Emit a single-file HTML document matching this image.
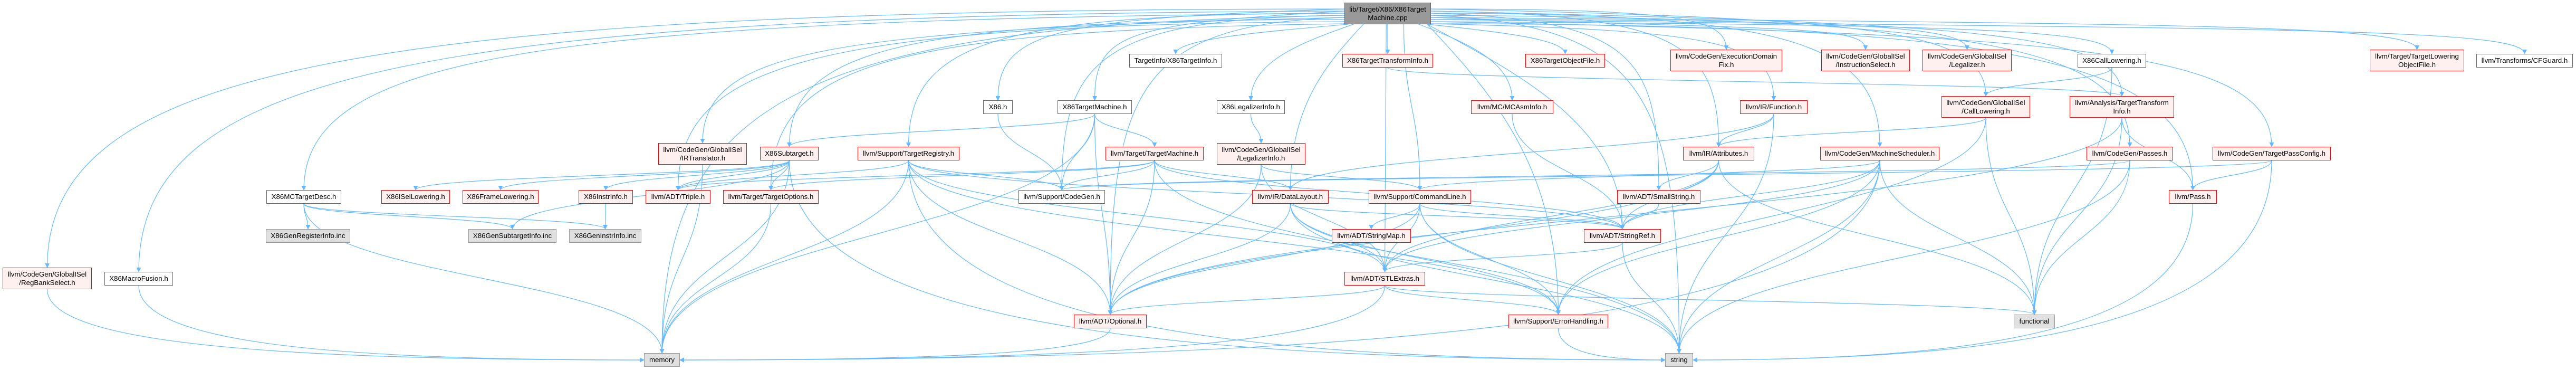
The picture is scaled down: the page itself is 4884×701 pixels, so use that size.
<!DOCTYPE html>
<html><head><meta charset="utf-8"><style>
html,body{margin:0;padding:0;background:#fff;}
#c{position:relative;width:4884px;height:701px;overflow:hidden;}
svg{position:absolute;left:0;top:0;}
.n{position:absolute;box-sizing:border-box;display:flex;align-items:center;justify-content:center;text-align:center;font-family:"Liberation Sans",sans-serif;font-size:13.3px;line-height:16px;color:#000;white-space:nowrap;}
.r{background:#fff0f0;border:1px solid #ff0000;}
.w{background:#fff;border:1px solid #666;}
.g{background:#e0e0e0;border:1px solid #999;}
.root{background:#999;border:1px solid #666;}
</style></head><body><div id="c">
<svg id="s" width="4884" height="701"><defs><marker id="a" viewBox="0 0 10 10" refX="9" refY="5" markerWidth="9" markerHeight="9" orient="auto" markerUnits="userSpaceOnUse"><path d="M0,0 L10,5 L0,10 z" fill="#63b8ff"/></marker></defs><g id="e" fill="none" stroke="#63b8ff" stroke-width="1.2"></g></svg>
<div class="n root" id="root" style="left:2549px;top:5px;width:164px;height:41px">lib/Target/X86/X86Target<br>Machine.cpp</div>
<div class="n r" id="regbank" style="left:5px;top:507px;width:169px;height:41px">llvm/CodeGen/GlobalISel<br>/RegBankSelect.h</div>
<div class="n w" id="macro" style="left:198px;top:515px;width:130px;height:26px">X86MacroFusion.h</div>
<div class="n w" id="mcdesc" style="left:505px;top:360px;width:142px;height:26px">X86MCTargetDesc.h</div>
<div class="n g" id="genreg" style="left:504px;top:434px;width:160px;height:26px">X86GenRegisterInfo.inc</div>
<div class="n r" id="isel" style="left:723px;top:360px;width:130px;height:26px">X86ISelLowering.h</div>
<div class="n r" id="frame" style="left:877px;top:360px;width:144px;height:26px">X86FrameLowering.h</div>
<div class="n g" id="gensub" style="left:888px;top:434px;width:167px;height:26px">X86GenSubtargetInfo.inc</div>
<div class="n r" id="instr" style="left:1097px;top:360px;width:103px;height:26px">X86InstrInfo.h</div>
<div class="n g" id="geninstr" style="left:1079px;top:434px;width:137px;height:26px">X86GenInstrInfo.inc</div>
<div class="n r" id="triple" style="left:1224px;top:360px;width:123px;height:26px">llvm/ADT/Triple.h</div>
<div class="n r" id="topts" style="left:1371px;top:360px;width:181px;height:26px">llvm/Target/TargetOptions.h</div>
<div class="n r" id="irtrans" style="left:1248px;top:271px;width:168px;height:41px">llvm/CodeGen/GlobalISel<br>/IRTranslator.h</div>
<div class="n r" id="subt" style="left:1441px;top:278px;width:111px;height:26px">X86Subtarget.h</div>
<div class="n g" id="memory" style="left:1221px;top:669px;width:68px;height:26px">memory</div>
<div class="n w" id="tinfo" style="left:2141px;top:102px;width:176px;height:26px">TargetInfo/X86TargetInfo.h</div>
<div class="n w" id="x86h" style="left:1864px;top:190px;width:56px;height:26px">X86.h</div>
<div class="n w" id="x86tm" style="left:2005px;top:190px;width:141px;height:26px">X86TargetMachine.h</div>
<div class="n w" id="legi" style="left:2307px;top:190px;width:129px;height:26px">X86LegalizerInfo.h</div>
<div class="n r" id="treg" style="left:1626px;top:278px;width:193px;height:26px">llvm/Support/TargetRegistry.h</div>
<div class="n r" id="tm" style="left:2096px;top:278px;width:186px;height:26px">llvm/Target/TargetMachine.h</div>
<div class="n r" id="llegi" style="left:2307px;top:271px;width:168px;height:41px">llvm/CodeGen/GlobalISel<br>/LegalizerInfo.h</div>
<div class="n w" id="cg" style="left:1931px;top:360px;width:164px;height:26px">llvm/Support/CodeGen.h</div>
<div class="n r" id="dl" style="left:2374px;top:360px;width:145px;height:26px">llvm/IR/DataLayout.h</div>
<div class="n r" id="opt" style="left:2036px;top:596px;width:138px;height:26px">llvm/ADT/Optional.h</div>
<div class="n r" id="xtti" style="left:2545px;top:102px;width:172px;height:26px">X86TargetTransformInfo.h</div>
<div class="n r" id="tobj" style="left:2892px;top:102px;width:151px;height:26px">X86TargetObjectFile.h</div>
<div class="n r" id="edf" style="left:3167px;top:94px;width:212px;height:41px">llvm/CodeGen/ExecutionDomain<br>Fix.h</div>
<div class="n r" id="mcasm" style="left:2789px;top:190px;width:156px;height:26px">llvm/MC/MCAsmInfo.h</div>
<div class="n r" id="attr" style="left:3191px;top:278px;width:135px;height:26px">llvm/IR/Attributes.h</div>
<div class="n r" id="cl" style="left:2595px;top:360px;width:194px;height:26px">llvm/Support/CommandLine.h</div>
<div class="n r" id="ss" style="left:3066px;top:360px;width:158px;height:26px">llvm/ADT/SmallString.h</div>
<div class="n r" id="smap" style="left:2525px;top:434px;width:150px;height:26px">llvm/ADT/StringMap.h</div>
<div class="n r" id="sref" style="left:3003px;top:434px;width:146px;height:26px">llvm/ADT/StringRef.h</div>
<div class="n r" id="stl" style="left:2549px;top:515px;width:153px;height:26px">llvm/ADT/STLExtras.h</div>
<div class="n r" id="err" style="left:2860px;top:596px;width:189px;height:26px">llvm/Support/ErrorHandling.h</div>
<div class="n g" id="string" style="left:3157px;top:669px;width:53px;height:26px">string</div>
<div class="n r" id="isel2" style="left:3453px;top:94px;width:168px;height:41px">llvm/CodeGen/GlobalISel<br>/InstructionSelect.h</div>
<div class="n r" id="leg" style="left:3645px;top:94px;width:169px;height:41px">llvm/CodeGen/GlobalISel<br>/Legalizer.h</div>
<div class="n w" id="xcl" style="left:3939px;top:102px;width:130px;height:26px">X86CallLowering.h</div>
<div class="n r" id="func" style="left:3299px;top:190px;width:128px;height:26px">llvm/IR/Function.h</div>
<div class="n r" id="cl2" style="left:3681px;top:182px;width:168px;height:41px">llvm/CodeGen/GlobalISel<br>/CallLowering.h</div>
<div class="n r" id="atti" style="left:3924px;top:182px;width:198px;height:41px">llvm/Analysis/TargetTransform<br>Info.h</div>
<div class="n r" id="ms" style="left:3451px;top:278px;width:226px;height:26px">llvm/CodeGen/MachineScheduler.h</div>
<div class="n r" id="passes" style="left:3956px;top:278px;width:164px;height:26px">llvm/CodeGen/Passes.h</div>
<div class="n g" id="functional" style="left:3818px;top:596px;width:78px;height:26px">functional</div>
<div class="n r" id="tlof" style="left:4493px;top:94px;width:179px;height:41px">llvm/Target/TargetLowering<br>ObjectFile.h</div>
<div class="n w" id="cfg" style="left:4695px;top:102px;width:183px;height:26px">llvm/Transforms/CFGuard.h</div>
<div class="n r" id="tpc" style="left:4195px;top:278px;width:224px;height:26px">llvm/CodeGen/TargetPassConfig.h</div>
<div class="n r" id="pass" style="left:4112px;top:360px;width:91px;height:26px">llvm/Pass.h</div>
</div>
<script>
(function(){
function box(id){var e=document.getElementById(id);return{x:e.offsetLeft,y:e.offsetTop,w:e.offsetWidth,h:e.offsetHeight};}
var E=[
["root","regbank"],["root","macro"],["root","mcdesc"],["root","memory"],["root","irtrans"],["root","subt"],["root","triple"],["root","topts"],
["root","tinfo"],["root","x86h"],["root","x86tm"],["root","legi"],["root","treg"],["root","cg"],["root","dl"],["root","opt"],
["root","xtti"],["root","tobj"],["root","edf"],["root","mcasm"],["root","attr"],["root","cl"],["root","ss"],["root","sref"],
["root","stl"],["root","err"],["root","string"],["root","isel2"],["root","leg"],["root","xcl"],["root","func"],["root","cl2"],
["root","atti"],["root","ms"],["root","passes"],["root","tlof"],["root","cfg"],["root","tpc"],["root","pass"],
["mcdesc","genreg"],["mcdesc","gensub"],["mcdesc","geninstr"],["mcdesc","memory"],["instr","geninstr"],
["subt","isel"],["subt","frame"],["subt","instr"],["subt","triple"],["subt","topts"],["subt","gensub"],["subt","memory"],["subt","string"],
["regbank","memory"],["macro","memory"],["irtrans","memory"],["topts","memory"],
["x86tm","subt"],["x86tm","cg"],["x86tm","tm"],["x86tm","opt"],["x86tm","memory"],["x86h","cg"],
["treg","cg"],["treg","opt"],["treg","triple"],["treg","memory"],["treg","string"],["treg","sref"],["treg","stl"],["treg","err"],
["tm","cg"],["tm","dl"],["tm","opt"],["tm","triple"],["tm","topts"],["tm","sref"],["tm","string"],
["legi","llegi"],["llegi","opt"],["llegi","cl"],["llegi","stl"],["xtti","atti"],
["dl","sref"],["dl","stl"],["dl","err"],["dl","string"],["dl","opt"],
["cl","smap"],["cl","sref"],["cl","stl"],["cl","err"],["cl","string"],["cl","opt"],
["sref","stl"],["sref","string"],["ss","sref"],["stl","err"],["stl","functional"],["stl","memory"],["stl","opt"],["err","string"],["opt","memory"],
["mcasm","sref"],["func","attr"],["func","string"],["func","dl"],["attr","ss"],["attr","sref"],["attr","stl"],["attr","opt"],["attr","functional"],
["cl2","attr"],["cl2","functional"],["cl2","err"],["ms","stl"],["ms","sref"],["ms","cl"],["ms","err"],["ms","memory"],["ms","string"],["ms","functional"],
["atti","functional"],["atti","pass"],["atti","opt"],["passes","functional"],["passes","cg"],["passes","string"],
["tpc","pass"],["tpc","cg"],["tpc","string"],["pass","string"],["xcl","cl2"],["xcl","functional"]
];
var g=document.getElementById("e"),d="",li=0,ri=0;
E.forEach(function(p){var a=box(p[0]),b=box(p[1]);
var sx=a.x+a.w/2,sy=a.y+a.h,tx=b.x+b.w/2,ty=b.y,path;
var dy=ty-sy,dx=tx-sx;
if(p[0]=="root"){
 if(Math.abs(dx)<110){sx=a.x+a.w/2+dx*0.5;path="M"+sx+","+sy+" C"+sx+","+(sy+dy*0.5)+" "+tx+","+(ty-dy*0.5)+" "+tx+","+ty;}
 else if(Math.abs(dx)<500){sx=a.x+a.w/2+(dx>0?1:-1)*Math.min(75,Math.abs(dx)*0.25);
  path="M"+sx+","+sy+" C"+(sx+dx*0.4)+","+(sy+dy*0.25)+" "+tx+","+(ty-dy*0.5)+" "+tx+","+ty;}
 else{var k=dx>0?(ri++):(li++);sx=dx>0?a.x+a.w:a.x;sy=a.y+12+(k%8)*4;
  path="M"+sx+","+sy+" C"+(sx+dx*0.75)+","+(sy+(k%5)*6)+" "+tx+","+(sy+(ty-sy)*0.25)+" "+tx+","+ty;}
}
else if(Math.abs(b.y-a.y)<10){sx=dx>0?a.x+a.w:a.x;sy=a.y+a.h/2;tx=dx>0?b.x:b.x+b.w;ty=b.y+b.h/2;
path="M"+sx+","+sy+" L"+tx+","+ty;}
else if(dy>0 && Math.abs(dx)>3*dy && b.y>600){tx=dx>0?b.x:b.x+b.w;ty=b.y+b.h/2;
path="M"+sx+","+sy+" C"+sx+","+(sy+(ty-sy)*0.8)+" "+(sx+dx*0.4)+","+ty+" "+tx+","+ty;}
else if(dy>0){path="M"+sx+","+sy+" C"+sx+","+(sy+dy*0.5)+" "+tx+","+(ty-dy*0.5)+" "+tx+","+ty;}
else{sy=a.y;ty=b.y+b.h;path="M"+sx+","+sy+" C"+sx+","+(sy+dy*0.5)+" "+tx+","+(ty-dy*0.5)+" "+tx+","+ty;}
d+='<path d="'+path+'" marker-end="url(#a)"/>';});
g.innerHTML=d;
})();
</script>
</body></html>
